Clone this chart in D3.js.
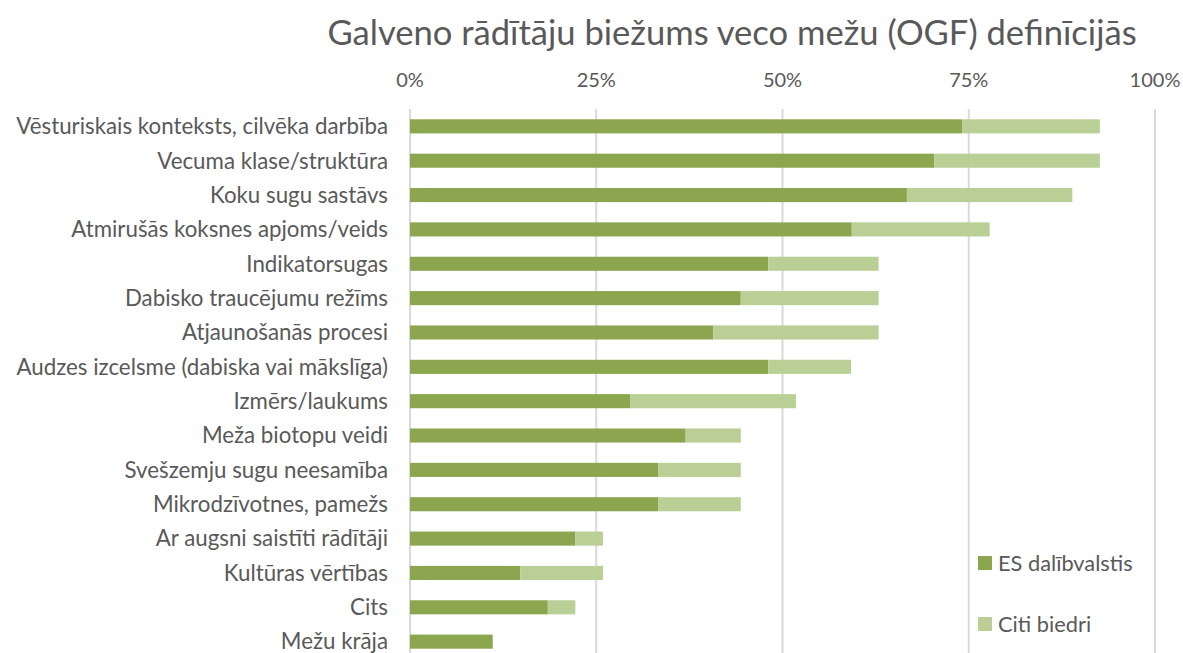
<!DOCTYPE html>
<html>
<head>
<meta charset="utf-8">
<script src="https://cdnjs.cloudflare.com/ajax/libs/d3/7.8.5/d3.min.js"></script>
<style>
  body { margin: 0; background: #fff; }
  svg text { font-family: Lato, "Open Sans", sans-serif; fill: #595959; }
</style>
</head>
<body>
<svg width="1183" height="653"></svg>
<script>
const w = 1183, h = 653;

// categories top to bottom
const categories = [
  "Vēsturiskais konteksts, cilvēka darbība",
  "Vecuma klase/struktūra",
  "Koku sugu sastāvs",
  "Atmirušās koksnes apjoms/veids",
  "Indikatorsugas",
  "Dabisko traucējumu režīms",
  "Atjaunošanās procesi",
  "Audzes izcelsme (dabiska vai mākslīga)",
  "Izmērs/laukums",
  "Meža biotopu veidi",
  "Svešzemju sugu neesamība",
  "Mikrodzīvotnes, pamežs",
  "Ar augsni saistīti rādītāji",
  "Kultūras vērtības",
  "Cits",
  "Mežu krāja"
];
// share of members (%)
const esValues    = [74.1, 70.4, 66.7, 59.3, 48.1, 44.4, 40.7, 48.1, 29.6, 37.0, 33.3, 33.3, 22.2, 14.8, 18.5, 11.1];
const citiValues  = [18.5, 22.2, 22.2, 18.5, 14.8, 18.5, 22.2, 11.1, 22.2,  7.4, 11.1, 11.1,  3.7, 11.1,  3.7,  0.0];
const seriesNames = ["ES dalībvalstis", "Citi biedri"];
const ticks = [0, 25, 50, 75, 100];

const colors = ["#8BA64E", "#B9CF96"];

const svg = d3.select("svg");

const x = d3.scaleLinear().domain([0, 100]).range([410, 1155]);
const y = d3.scaleBand().domain(categories).range([109, 659]).paddingInner(0.59).paddingOuter(0.3);

// gridlines
svg.append("g").selectAll("line")
  .data(ticks)
  .join("line")
  .attr("x1", d => x(d)).attr("x2", d => x(d))
  .attr("y1", 109).attr("y2", h)
  .attr("stroke", "#d9d9d9").attr("stroke-width", 2);

// top axis labels
svg.append("g").selectAll("text")
  .data(ticks)
  .join("text")
  .attr("x", d => x(d)).attr("y", 87)
  .attr("text-anchor", "middle")
  .style("font-size", "20px")
  .text(d => d + "%");

// stacked bars
const rows = categories.map((c, i) => ({ cat: c, vals: [esValues[i], citiValues[i]] }));
const stack = d3.stack().keys([0, 1]).value((d, k) => d.vals[k]);
svg.append("g").selectAll("g")
  .data(stack(rows))
  .join("g")
  .attr("fill", (d, i) => colors[i])
  .selectAll("rect")
  .data(d => d)
  .join("rect")
  .attr("x", d => x(d[0]))
  .attr("width", d => x(d[1]) - x(d[0]))
  .attr("y", d => y(d.data.cat))
  .attr("height", y.bandwidth());

// category labels
svg.append("g").selectAll("text")
  .data(categories)
  .join("text")
  .attr("x", 388)
  .attr("y", d => y(d) + y.bandwidth() / 2)
  .attr("dy", "0.35em")
  .attr("text-anchor", "end")
  .style("font-size", "22.3px")
  .text(d => d);

// title
svg.append("text")
  .attr("x", 732).attr("y", 45)
  .attr("text-anchor", "middle")
  .style("font-size", "34.6px")
  .text("Galveno rādītāju biežums veco mežu (OGF) definīcijās");

// legend
const legend = svg.append("g").attr("transform", "translate(978,556)");
legend.selectAll("g")
  .data(seriesNames)
  .join("g")
  .attr("transform", (d, i) => `translate(0,${i * 61})`)
  .each(function(d, i) {
    d3.select(this).append("rect")
      .attr("width", 14).attr("height", 14)
      .attr("fill", colors[i]);
    d3.select(this).append("text")
      .attr("x", 20).attr("y", 7).attr("dy", "0.35em")
      .style("font-size", "21.8px")
      .text(d);
  });
</script>
</body>
</html>
